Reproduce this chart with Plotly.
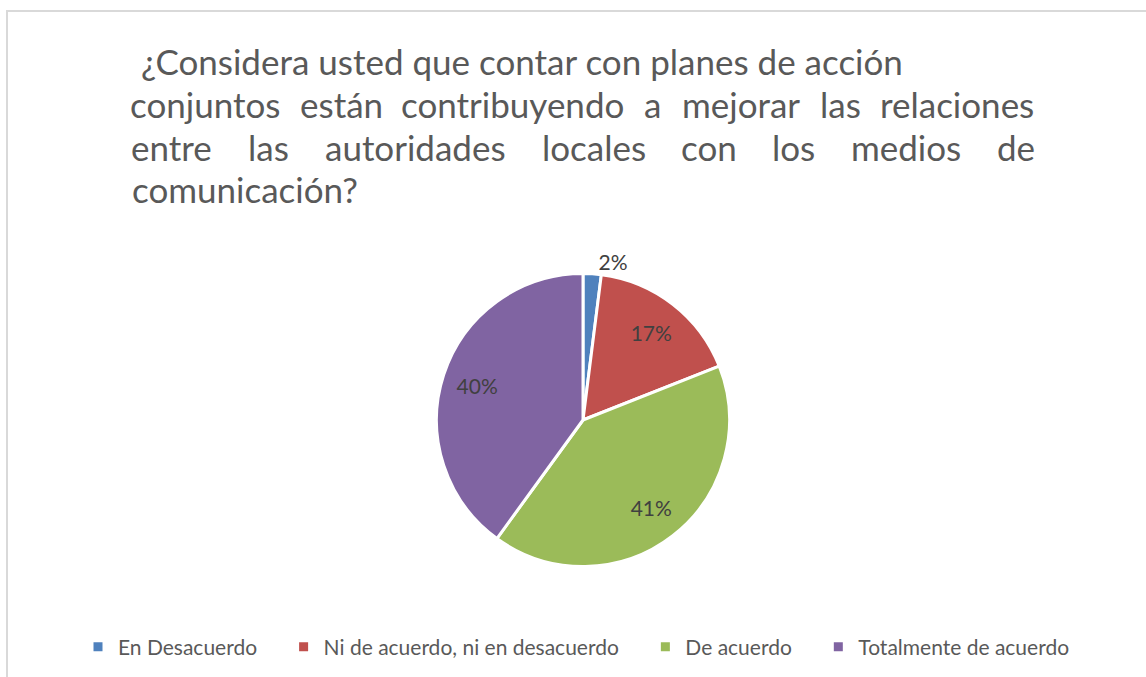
import plotly.graph_objects as go

# ---- data ----
categories = ["En Desacuerdo", "Ni de acuerdo, ni en desacuerdo", "De acuerdo", "Totalmente de acuerdo"]
values = [2, 17, 41, 40]
colors = ["#4F81BD", "#C0504D", "#9BBB59", "#8064A2"]
title_lines = [
    " ¿Considera usted que contar con planes de acción",
    "conjuntos están contribuyendo a mejorar las relaciones",
    "entre las autoridades locales con los medios de",
    "comunicación?",
]

W, H = 1146, 677
FONT = "Lato"
TITLE_SIZE = 35
TITLE_COLOR = "#595959"

# approximate advance widths (per 1000 em) of the original face, used to justify lines
CW = {"a": 479, "b": 525, "c": 423, "d": 525, "e": 498, "f": 305, "g": 471, "h": 525, "i": 229,
      "j": 255, "k": 455, "l": 229, "m": 799, "n": 525, "o": 527, "p": 525, "q": 525, "r": 349,
      "s": 391, "t": 335, "u": 525, "v": 452, "w": 715, "x": 433, "y": 453, "z": 395,
      "á": 479, "ó": 527, "é": 498, "í": 229, "?": 463, "¿": 463, "C": 533}


def wwidth(word):
    return sum(CW.get(ch, 500) for ch in word)


def px(x):
    return x / W


def py(y):
    return 1 - y / H


# legend entries get a little trailing padding to mimic the original item spacing
legend_labels = [c + "\u00a0" * 4 if i < len(categories) - 1 else c for i, c in enumerate(categories)]

fig = go.Figure()

cx, cy, r = 583, 420, 146.5
dom = dict(x=[px(cx - r), px(cx + r)], y=[py(cy + r), py(cy - r)])
n = len(values)

# main pie (slices, legend, outside label of the small slice)
fig.add_trace(go.Pie(
    labels=legend_labels,
    values=values,
    sort=False,
    direction="clockwise",
    rotation=0,
    marker=dict(colors=colors, line=dict(color="white", width=3)),
    texttemplate="%{percent:.0%}",
    textposition=["outside"] + ["none"] * (n - 1),
    textfont=dict(family=FONT, size=21, color="#404040"),
    outsidetextfont=dict(family=FONT, size=21, color="#404040"),
    domain=dom,
    hoverinfo="label+percent",
))

# transparent ring overlay that positions the inside labels at ~3/4 of the radius
fig.add_trace(go.Pie(
    labels=legend_labels,
    values=values,
    sort=False,
    direction="clockwise",
    rotation=0,
    hole=0.52,
    marker=dict(colors=["rgba(0,0,0,0)"] * n, line=dict(width=0)),
    texttemplate="%{percent:.0%}",
    textposition=["none"] + ["inside"] * (n - 1),
    insidetextorientation="horizontal",
    textfont=dict(family=FONT, size=21, color="#404040"),
    domain=dom,
    showlegend=False,
    hoverinfo="skip",
))

annotations = []
x_left, x_right = 130, 1035
line_mid = [61, 104, 147, 189]

# line 1 and 4: left aligned
for idx, x0 in ((0, 130), (3, 130)):
    annotations.append(dict(
        x=px(x0), y=py(line_mid[idx]), xref="paper", yref="paper",
        text=title_lines[idx], showarrow=False, xanchor="left", yanchor="middle",
        font=dict(family=FONT, size=TITLE_SIZE, color=TITLE_COLOR),
    ))

# lines 2 and 3: justified
for idx in (1, 2):
    words = title_lines[idx].split()
    widths = [wwidth(w) for w in words]
    total = sum(widths)
    scale = 37.4 / 1000
    gap = ((x_right - x_left) - total * scale) / (len(words) - 1)
    x = x_left
    for w, wd in zip(words, widths):
        wpx = wd * scale
        annotations.append(dict(
            x=px(x + wpx / 2), y=py(line_mid[idx]), xref="paper", yref="paper",
            text=w, showarrow=False, xanchor="center", yanchor="middle",
            font=dict(family=FONT, size=TITLE_SIZE, color=TITLE_COLOR),
        ))
        x += wpx + gap

shapes = [dict(
    type="rect", xref="paper", yref="paper",
    x0=px(7), x1=1.05, y0=-0.05, y1=py(11),
    line=dict(color="#D9D9D9", width=2), fillcolor="rgba(0,0,0,0)", layer="below",
)]

fig.update_layout(
    width=W, height=H,
    margin=dict(l=0, r=0, t=0, b=0),
    paper_bgcolor="white", plot_bgcolor="white",
    annotations=annotations,
    shapes=shapes,
    showlegend=True,
    legend=dict(
        orientation="h", x=px(78), xanchor="left", y=py(647), yanchor="middle",
        font=dict(family=FONT, size=21, color="#595959"),
        traceorder="normal", itemclick=False, itemdoubleclick=False,
    ),
)

fig.write_html(
    "out.html",
    config={"displayModeBar": False},
    post_script="document.body.style.margin='0px';",
)
